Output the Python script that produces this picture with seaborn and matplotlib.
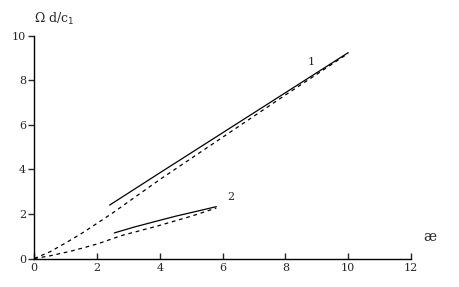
import numpy as np
import pandas as pd
import matplotlib
matplotlib.use("Agg")
import matplotlib.pyplot as plt
import seaborn as sns

# curve 1: calculated (solid) and asymptotic (dashed)
x1_solid = [2.4, 4.0, 6.0, 8.0, 10.0]
y1_solid = [2.4, 3.85, 5.65, 7.45, 9.25]
x1_dash = [0, 0.5, 1, 1.5, 2, 2.5, 3, 4, 5, 6, 7, 8, 9, 10]
y1_dash = [0, 0.3, 0.7, 1.12, 1.58, 2.05, 2.55, 3.55, 4.5, 5.45, 6.4, 7.35, 8.28, 9.22]

# curve 2
x2_solid = [2.55, 3.2, 3.9, 4.5, 5.2, 5.8]
y2_solid = [1.15, 1.42, 1.68, 1.9, 2.13, 2.33]
x2_dash = [0, 0.5, 1.2, 2.0, 2.8, 3.9, 5.0, 5.8]
y2_dash = [0, 0.12, 0.34, 0.65, 1.04, 1.45, 1.9, 2.27]

xticks = [0, 2, 4, 6, 8, 10, 12]
yticks = [0, 2, 4, 6, 8, 10]

sns.set_style("ticks")
plt.rcParams['font.family'] = ['DejaVu Serif']

fig = plt.figure(figsize=(4.59, 2.87), dpi=100)
ax = fig.add_axes([0.0747, 0.0993, 0.8206, 0.7753])

sns.lineplot(x=x1_solid, y=y1_solid, ax=ax, color="black", lw=0.9)
sns.lineplot(x=x1_dash, y=y1_dash, ax=ax, color="black", lw=0.9, linestyle=(0, (3, 3)))
sns.lineplot(x=x2_solid, y=y2_solid, ax=ax, color="black", lw=0.9)
sns.lineplot(x=x2_dash, y=y2_dash, ax=ax, color="black", lw=0.9, linestyle=(0, (3, 3)))

ax.set_xlim(0, 12)
ax.set_ylim(0, 10)
ax.set_xticks(xticks)
ax.set_yticks(yticks)
ax.tick_params(axis="x", direction="in", length=4, width=1, labelsize=8, pad=3)
ax.tick_params(axis="y", direction="out", length=4, width=1, labelsize=8, pad=2)
sns.despine(ax=ax)
for s in ["left", "bottom"]:
    ax.spines[s].set_linewidth(1)
    ax.spines[s].set_color("black")

ax.text(8.83, 8.85, "1", fontsize=8, ha="center", va="center")
ax.text(6.27, 2.78, "2", fontsize=8, ha="center", va="center")
ax.text(12.6, 0.97, "æ", fontsize=10, ha="center", va="center", clip_on=False)
ax.text(0.0, 10.75, "Ω d/c$_1$", fontsize=9, ha="left", va="center", clip_on=False)

fig.savefig("out.png", dpi=100, facecolor="white")
